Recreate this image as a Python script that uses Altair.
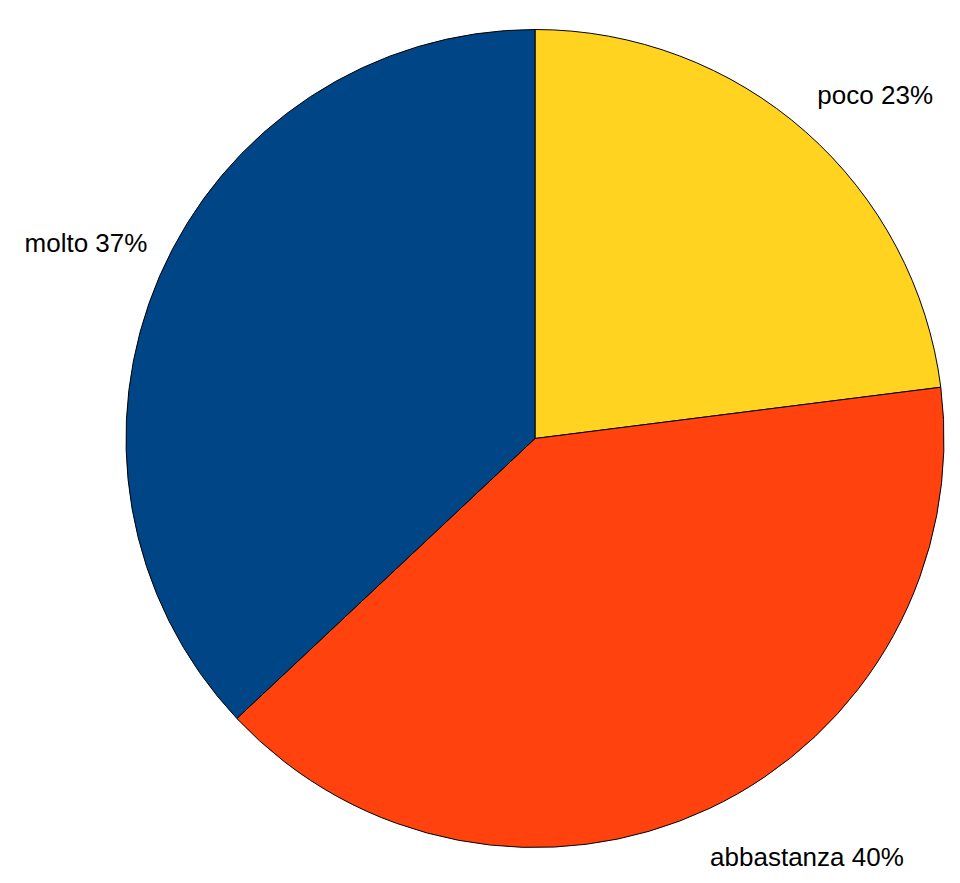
import altair as alt
import pandas as pd

categorie = ["poco", "abbastanza", "molto"]
percentuali = [23, 40, 37]
ordine = [0, 1, 2]
colori = ["#ffd320", "#ff420e", "#004586"]

df = pd.DataFrame({"categoria": categorie, "percentuale": percentuali, "ordine": ordine})

CX, CY = 527, 430.5
theta_scale = alt.Scale(domain=[0, 100])

base = (
    alt.Chart(df)
    .transform_stack(stack="percentuale", as_=["s0", "s1"], groupby=[],
                     sort=[alt.SortField(field="ordine", order="ascending")])
    .transform_calculate(mid="(datum.s0 + datum.s1) / 2",
                         label="datum.categoria + ' ' + datum.percentuale + '%'")
)

arc = base.mark_arc(outerRadius=409, stroke="#000000", strokeWidth=1).encode(
    theta=alt.Theta("s0:Q", scale=theta_scale),
    theta2="s1:Q",
    color=alt.Color("categoria:N", scale=alt.Scale(domain=categorie, range=colori), legend=None),
    x=alt.value(CX),
    y=alt.value(CY),
)

def label(cat, align, dx, dy):
    return base.transform_filter(alt.datum.categoria == cat).mark_text(
        radius=430, align=align, baseline="alphabetic", dx=dx, dy=dy,
        fontSize=26, font="Liberation Sans", color="#000000",
    ).encode(
        theta=alt.Theta("mid:Q", scale=theta_scale),
        text="label:N",
        x=alt.value(CX),
        y=alt.value(CY),
    )

chart = alt.layer(
    arc,
    label("poco", "left", -2, -12),
    label("molto", "right", 7, -16),
    label("abbastanza", "left", -8, 38),
).properties(
    width=944, height=867, padding=0,
    autosize=alt.AutoSizeParams(type="none"),
).configure_view(stroke=None)

chart.save("out.html", embed_options={"renderer": "svg", "actions": False})
